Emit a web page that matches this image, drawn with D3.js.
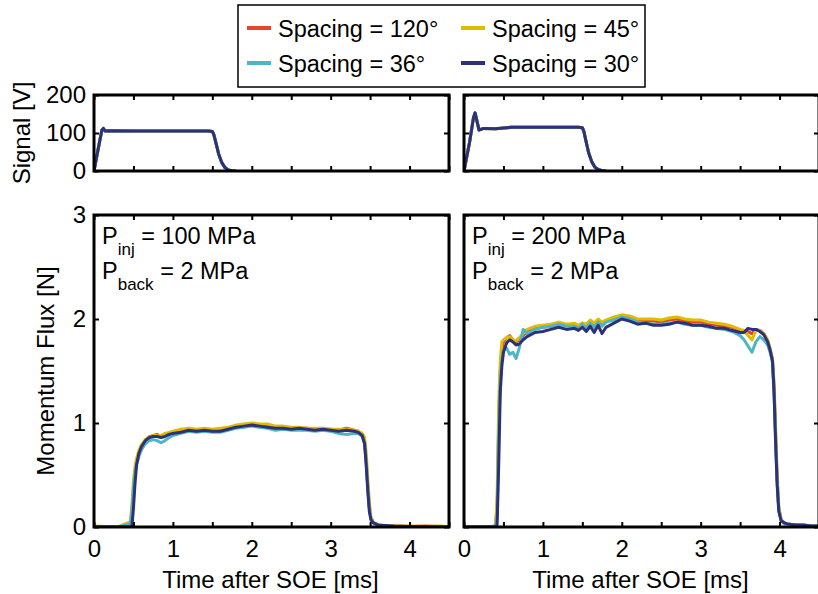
<!DOCTYPE html>
<html><head><meta charset="utf-8">
<script src="https://cdn.jsdelivr.net/npm/d3@7"></script>
<style>
body{margin:0;background:#fff}
svg{display:block}
text{font-family:"Liberation Sans",Arial,Helvetica,sans-serif;fill:#000}
</style></head>
<body><svg id="c" width="818" height="594"></svg>
<script>
// ---------- data ----------
const seriesNames = ["Spacing = 120°", "Spacing = 45°", "Spacing = 36°", "Spacing = 30°"];
const seriesColors = ["#E5462B", "#E1BB00", "#4DB5C4", "#2C3279"];

const xTicks = [0, 0.5, 1, 1.5, 2, 2.5, 3, 3.5, 4, 4.5];
const xTickLabels = ["0", "", "1", "", "2", "", "3", "", "4", ""];
const fluxTicks = [0, 1, 2, 3];
const signalTicks = [0, 100, 200];

// Top panels: injector signal [V]
const sigTimeLeft = [0, 0.05, 0.1, 0.12, 0.14, 0.2, 0.5, 1.0, 1.45, 1.5, 1.52, 1.55, 1.58, 1.62, 1.66, 1.7, 1.75, 1.8];
const sigLeft     = [0, 55, 108, 112, 105, 106, 105, 105, 105, 104, 95, 70, 45, 22, 9, 3, 1, 0];
const sigTimeRight = [0, 0.07, 0.12, 0.14, 0.16, 0.19, 0.25, 0.4, 0.5, 0.6, 1.0, 1.45, 1.5, 1.52, 1.55, 1.58, 1.62, 1.66, 1.7, 1.75, 1.8];
const sigRight     = [0, 75, 140, 153, 135, 108, 112, 111, 113, 115, 115, 115, 114, 104, 75, 48, 24, 10, 4, 1, 0];

// Bottom-left panel: P_inj = 100 MPa
const timeLeft = [0,0.3,0.46,0.48,0.5,0.52,0.54,0.57,0.6,0.65,0.7,0.75,0.8,0.85,0.9,0.95,1.0,1.1,1.2,1.3,1.4,1.5,1.6,1.7,1.8,1.9,2.0,2.1,2.2,2.3,2.4,2.5,2.6,2.7,2.8,2.9,3.0,3.1,3.2,3.3,3.35,3.4,3.43,3.45,3.47,3.49,3.51,3.54,3.6,3.7,3.8,4.0,4.2,4.4,4.5];
const flux120Left = [0,0,0.02,0.12,0.35,0.52,0.63,0.72,0.78,0.83, 0.86,0.88,0.89,0.87,0.88,0.9,0.91, 0.93,0.94,0.93,0.94,0.93,0.94,0.95,0.97,0.98,0.99, 0.98,0.97,0.96,0.96,0.95,0.95,0.95,0.94,0.94,0.94, 0.93,0.95,0.93, 0.92,0.89,0.82,0.65,0.4,0.2,0.08,0.04,0.02,0.01,0.01, 0.005,0.01,0.005,0];
const flux45Left  = [0.01,0,0.05,0.2,0.45,0.58,0.66,0.74,0.79,0.84, 0.87,0.88,0.88,0.88,0.9,0.91,0.92, 0.94,0.95,0.94,0.95,0.94,0.95,0.96,0.98,0.99,1.0, 0.99,0.99,0.97,0.97,0.96,0.96,0.95,0.95,0.95,0.94, 0.94,0.94,0.93, 0.92,0.9,0.86,0.72,0.48,0.25,0.1,0.05,0.02,0.01,0.01, 0.01,0.005,0.01,0];
const flux36Left  = [0,0,0.03,0.15,0.38,0.53,0.6,0.68,0.74,0.8, 0.83,0.84,0.83,0.81,0.83,0.86,0.88, 0.9,0.92,0.91,0.92,0.91,0.91,0.93,0.95,0.96,0.97, 0.96,0.95,0.93,0.94,0.93,0.93,0.93,0.92,0.93,0.92, 0.9,0.89,0.9, 0.9,0.87,0.8,0.62,0.38,0.18,0.08,0.04,0.02,0.01,0.005, 0.005,0,0,0];
const flux30Left  = [0,0,0,0,0.18,0.42,0.6,0.71,0.77,0.83, 0.86,0.87,0.87,0.86,0.87,0.89,0.9, 0.91,0.93,0.92,0.93,0.92,0.92,0.94,0.96,0.97,0.98, 0.97,0.96,0.95,0.95,0.94,0.95,0.94,0.93,0.94,0.93, 0.92,0.93,0.92, 0.91,0.88,0.8,0.6,0.35,0.15,0.07,0.04,0.02,0.015,0.01, 0.005,0.003,0,0];

// Bottom-right panel: P_inj = 200 MPa
const timeRight = [0,0.3,0.4,0.42,0.44,0.46,0.48,0.5,0.54,0.58, 0.62,0.66,0.7,0.75,0.8,0.9,1.0,1.1,1.2,1.3, 1.4,1.45,1.5,1.55,1.6,1.65,1.7,1.75,1.8,1.9, 2.0,2.1,2.2,2.3,2.4,2.5,2.6,2.7,2.8,2.9, 3.0,3.1,3.2,3.3,3.4,3.5,3.55,3.6,3.65,3.7, 3.75,3.8,3.85,3.88,3.91,3.93,3.95,3.97,3.99,4.02, 4.06,4.1,4.2,4.3,4.4,4.5];
const flux120Right = [0,0,0.01,0.2,1.0,1.5,1.7,1.78,1.82,1.84, 1.8,1.78,1.8,1.84,1.88,1.91,1.92,1.93,1.95,1.94, 1.95,1.93,1.96,1.93,1.97,1.94,1.98,1.95,1.98,2.01, 2.03,2.02,1.98,1.98,1.98,1.97,1.99,2.0,1.98,1.97, 1.97,1.95,1.94,1.93,1.92,1.89,1.89,1.88,1.86,1.9, 1.89,1.86,1.79,1.71,1.61,1.35,0.9,0.45,0.18,0.07, 0.04,0.03,0.02,0.02,0.01,0.01];
const flux45Right  = [0,0,0.01,0.3,1.2,1.6,1.78,1.8,1.82,1.83, 1.8,1.79,1.82,1.86,1.9,1.93,1.94,1.95,1.97,1.95, 1.96,1.94,1.96,1.95,1.99,1.96,2.0,1.97,1.99,2.02, 2.04,2.03,2.0,2.0,2.0,1.99,2.01,2.02,2.0,1.99, 1.99,1.97,1.96,1.95,1.93,1.9,1.89,1.84,1.8,1.89, 1.89,1.86,1.8,1.72,1.62,1.4,0.95,0.5,0.2,0.07, 0.04,0.03,0.02,0.02,0.01,0.01];
const flux36Right  = [0,0,0.01,0.1,0.9,1.4,1.6,1.7,1.72,1.66, 1.68,1.62,1.72,1.9,1.86,1.9,1.92,1.93,1.95,1.93, 1.93,1.9,1.95,1.91,1.96,1.92,1.97,1.93,1.97,1.99, 2.02,2.0,1.97,1.96,1.95,1.95,1.96,1.97,1.95,1.94, 1.94,1.92,1.91,1.9,1.88,1.84,1.8,1.74,1.68,1.78, 1.83,1.8,1.75,1.68,1.58,1.3,0.85,0.42,0.17,0.06, 0.03,0.03,0.02,0.01,0.01,0.01];
const flux30Right  = [0,0,0,0.02,0.6,1.3,1.55,1.68,1.77,1.8, 1.78,1.75,1.76,1.8,1.83,1.87,1.88,1.9,1.92,1.9, 1.91,1.89,1.92,1.88,1.93,1.87,1.94,1.86,1.92,1.96, 2.0,1.98,1.95,1.96,1.94,1.94,1.95,1.97,1.96,1.94, 1.94,1.93,1.91,1.91,1.89,1.87,1.87,1.91,1.9,1.9, 1.88,1.85,1.78,1.7,1.6,1.3,0.8,0.4,0.15,0.06, 0.04,0.03,0.02,0.02,0.01,0.01];

const annotLeft = {inj: "100 MPa", back: "2 MPa"};
const annotRight = {inj: "200 MPa", back: "2 MPa"};

// ---------- drawing ----------
const svg = d3.select("#c");
const FONT = '"Liberation Sans",Arial,Helvetica,sans-serif';
const colX = [[94, 449], [464, 819]];
const rowTop = [95, 171], rowBot = [215, 527];
let clipId = 0;

function makePanel(col, row, yDom, yTicks, showY, yFmt) {
  const x = d3.scaleLinear().domain([0, 4.5]).range(colX[col]);
  const y = d3.scaleLinear().domain(yDom).range([row[1], row[0]]);
  const g = svg.append("g");
  const id = "clip" + (clipId++);
  g.append("clipPath").attr("id", id).append("rect")
    .attr("x", colX[col][0]).attr("y", row[0])
    .attr("width", colX[col][1] - colX[col][0]).attr("height", row[1] - row[0]);
  const plot = g.append("g").attr("clip-path", `url(#${id})`);
  const styleAxis = a => {
    a.select(".domain").remove();
    a.attr("font-family", FONT).attr("font-size", 24);
    a.selectAll(".tick line").attr("stroke", "#000").attr("stroke-width", 2);
  };
  // bottom
  g.append("g").attr("transform", `translate(0,${row[1]})`)
    .call(d3.axisBottom(x).tickValues(xTicks).tickSize(-5).tickPadding(13)
      .tickFormat((d, i) => (row === rowBot ? xTickLabels[i] : "")))
    .call(styleAxis);
  // top
  g.append("g").attr("transform", `translate(0,${row[0]})`)
    .call(d3.axisTop(x).tickValues(xTicks).tickSize(-5).tickFormat(""))
    .call(styleAxis);
  // left
  g.append("g").attr("transform", `translate(${colX[col][0]},0)`)
    .call(d3.axisLeft(y).tickValues(yTicks).tickSize(-5).tickPadding(8)
      .tickFormat(d => (showY ? yFmt(d) : "")))
    .call(styleAxis);
  // right
  g.append("g").attr("transform", `translate(${colX[col][1]},0)`)
    .call(d3.axisRight(y).tickValues(yTicks).tickSize(-5).tickFormat(""))
    .call(styleAxis);
  // frame
  g.append("rect").attr("x", colX[col][0]).attr("y", row[0])
    .attr("width", colX[col][1] - colX[col][0]).attr("height", row[1] - row[0])
    .attr("fill", "none").attr("stroke", "#000").attr("stroke-width", 3);
  return {x, y, plot, g};
}

function drawLines(p, times, seriesList) {
  const line = d3.line().x(d => p.x(d[0])).y(d => p.y(d[1]));
  seriesList.forEach((vals, i) => {
    p.plot.append("path").datum(d3.zip(times, vals))
      .attr("fill", "none").attr("stroke", seriesColors[i])
      .attr("stroke-width", 3).attr("stroke-linejoin", "round")
      .attr("d", line);
  });
}

const fmt = d3.format("d");
const pTL = makePanel(0, rowTop, [0, 200], signalTicks, true, fmt);
const pTR = makePanel(1, rowTop, [0, 200], signalTicks, false, fmt);
const pBL = makePanel(0, rowBot, [0, 3], fluxTicks, true, fmt);
const pBR = makePanel(1, rowBot, [0, 3], fluxTicks, false, fmt);

drawLines(pTL, sigTimeLeft, [sigLeft, sigLeft, sigLeft, sigLeft]);
drawLines(pTR, sigTimeRight, [sigRight, sigRight, sigRight, sigRight]);
drawLines(pBL, timeLeft, [flux120Left, flux45Left, flux36Left, flux30Left]);
drawLines(pBR, timeRight, [flux120Right, flux45Right, flux36Right, flux30Right]);

// annotations
function annot(p, a) {
  const x0 = p.x.range()[0] + 8;
  const t1 = svg.append("text").attr("x", x0).attr("y", 244).attr("font-size", 23.5);
  t1.append("tspan").text("P");
  t1.append("tspan").attr("font-size", 17).attr("dy", 11).text("inj");
  t1.append("tspan").attr("dy", -11).text(" = " + a.inj);
  const t2 = svg.append("text").attr("x", x0).attr("y", 279).attr("font-size", 23.5);
  t2.append("tspan").text("P");
  t2.append("tspan").attr("font-size", 17).attr("dy", 11).text("back");
  t2.append("tspan").attr("dy", -11).text(" = " + a.back);
}
annot(pBL, annotLeft);
annot(pBR, annotRight);

// axis titles
svg.append("text").attr("transform", "translate(30,133) rotate(-90)")
  .attr("text-anchor", "middle").attr("font-size", 24).text("Signal [V]");
svg.append("text").attr("transform", "translate(54,371) rotate(-90)")
  .attr("text-anchor", "middle").attr("font-size", 24).text("Momentum Flux [N]");
[pBL, pBR].forEach(p => {
  const r = p.x.range();
  svg.append("text").attr("x", (r[0] + r[1]) / 2 - 1).attr("y", 588)
    .attr("text-anchor", "middle").attr("font-size", 24).text("Time after SOE [ms]");
});

// legend
const lg = svg.append("g");
lg.append("rect").attr("x", 238).attr("y", 5).attr("width", 407).attr("height", 82)
  .attr("fill", "#fff").attr("stroke", "#000").attr("stroke-width", 1.5);
const legPos = [[247, 28], [461, 28], [247, 63], [461, 63]];
seriesNames.forEach((n, i) => {
  const [lx, ly] = legPos[i];
  lg.append("line").attr("x1", lx).attr("x2", lx + 24).attr("y1", ly).attr("y2", ly)
    .attr("stroke", seriesColors[i]).attr("stroke-width", 4);
  lg.append("text").attr("x", lx + 31).attr("y", ly + 9).attr("font-size", 23.5).text(n);
});
</script></body></html>
